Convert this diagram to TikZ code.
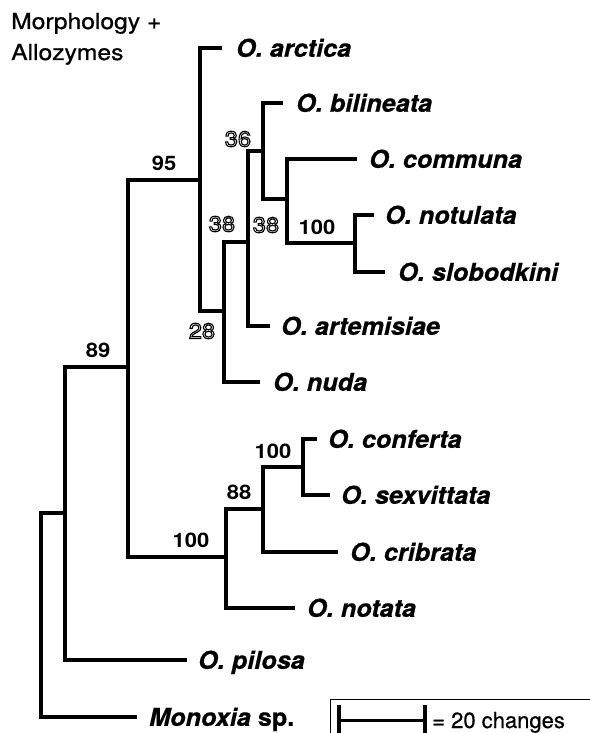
\documentclass[tikz,border=0pt]{standalone}
\usepackage{fontspec}
\setmainfont{TeX Gyre Heros}
\newfontfamily\taxfont[FakeStretch=1.03,FakeBold=0.6]{TeX Gyre Heros}
\newfontfamily\numfont[FakeStretch=1.1]{TeX Gyre Heros}
\newfontfamily\headfont[FakeStretch=1.12,FakeBold=0.8]{TeX Gyre Heros}
\newfontfamily\chgfont[FakeBold=0.6]{TeX Gyre Heros}
\usetikzlibrary{positioning}
% outlined digits for the weak supports
\newcommand{\hollownum}[1]{\special{pdf:literal direct 1 Tr 1.1 w}#1\special{pdf:literal direct 0 Tr}}
\tikzset{
  br/.style     = {line width=4.5pt},
  taxon/.style  = {font=\taxfont\bfseries\itshape\fontsize{24.5}{28}\selectfont,
                   inner sep=0pt, text height=17.5pt, text depth=0pt},
  boot/.style   = {font=\numfont\bfseries\fontsize{20}{24}\selectfont, inner sep=0pt},
  hboot/.style  = {font=\numfont\fontsize{21.5}{24}\selectfont, inner sep=0pt},
  head/.style   = {font=\headfont\fontsize{22}{26}\selectfont, inner sep=0pt,
                   anchor=base west},
  sbar/.style   = {line width=3pt},
  stick/.style  = {line width=4.5pt},
}

\begin{document}
\begin{tikzpicture}[x=1pt,y=-1pt]
  \useasboundingbox (0,0) rectangle (589,733);
  % internal nodes
  \coordinate (root) at (41,615);
  \coordinate (nPil) at (65,513);
  \coordinate (n89)  at (128,367);
  \coordinate (n95)  at (200,180);
  \coordinate (nNud) at (224,311);
  \coordinate (nArt) at (248,242);
  \coordinate (nBil) at (263,151);
  \coordinate (nCom) at (287,199);
  \coordinate (nNsl) at (355,243);
  \coordinate (nLow) at (226,557);
  \coordinate (n88)  at (263,509);
  \coordinate (nCnf) at (303,467);
  % tips
  \coordinate (tArc) at (222,48);
  \coordinate (tBil) at (283,103);
  \coordinate (tCom) at (357,159);
  \coordinate (tNtl) at (374,215);
  \coordinate (tSlo) at (385,272);
  \coordinate (tArt) at (270,326);
  \coordinate (tNud) at (260,382);
  \coordinate (tCnf) at (317,439);
  \coordinate (tSex) at (330,495);
  \coordinate (tCri) at (338,552);
  \coordinate (tNot) at (295,608);
  \coordinate (tPil) at (187,660);
  \coordinate (tMon) at (137,717);
  % branches
  \foreach \p/\c in {root/nPil, root/tMon, nPil/n89, nPil/tPil, n89/n95, n89/nLow,
      n95/tArc, n95/nNud, nNud/nArt, nNud/tNud, nArt/nBil, nArt/tArt,
      nBil/tBil, nBil/nCom, nCom/tCom, nCom/nNsl, nNsl/tNtl, nNsl/tSlo,
      nLow/n88, nLow/tNot, n88/nCnf, n88/tCri, nCnf/tCnf, nCnf/tSex}
    \draw[br] (\p) |- (\c);
  % taxa
  \node[taxon, right=14pt of tArc] (arc) {O. arctica};
  \node[taxon, right=13pt of tBil] (bil) {O. bilineata};
  \node[taxon, right=12pt of tCom] (com) {O. communa};
  \node[taxon, right=11pt of tNtl] (ntl) {O. notulata};
  \node[taxon, right=13pt of tSlo] (slo) {O. slobodkini};
  \node[taxon, right=11pt of tArt] (art) {O. artemisiae};
  \node[taxon, right=13pt of tNud] (nud) {O. nuda};
  \node[taxon, right=11pt of tCnf] (cnf) {O. conferta};
  \node[taxon, right=11pt of tSex] (sex) {O. sexvittata};
  \node[taxon, right=12pt of tCri] (cri) {O. cribrata};
  \node[taxon, right=12pt of tNot] (not) {O. notata};
  \node[taxon, right=11pt of tPil] (pil) {O. pilosa};
  \node[taxon, right=12pt of tMon] (mon) {Monoxia \upshape sp.};
  % supports
  \node[boot] (b95)  at (164,163) {95};
  \node[boot] (b89)  at (98,350)  {89};
  \node[hboot] (b36)  at (238,139) {\hollownum{36}};
  \node[hboot] (b38a) at (222,224) {\hollownum{38}};
  \node[hboot] (b38b) at (266,225) {\hollownum{38}};
  \node[hboot] (b28)  at (202,331) {\hollownum{28}};
  \node[boot] (b100a) at (317,227) {100};
  \node[boot] (b100b) at (191,540) {100};
  \node[boot] (b88)  at (239,492) {88};
  \node[boot] (b100c) at (273,451) {100};
  % heading
  \node[head] (hd1) at (11,29) {Morphology +};
  \node[head] (hd2) at (11,60) {Allozymes};
  % scale
  \draw[line width=1pt] (330,699) rectangle (620,760);
  \coordinate (sL) at (339,720);
  \coordinate (sR) at (425,720);
  \draw[sbar] (sL) -- (sR);
  \draw[stick] ([yshift=15pt]sL) -- ([yshift=-15pt]sL);
  \draw[stick] ([yshift=15pt]sR) -- ([yshift=-15pt]sR);
  \node[font=\chgfont\fontsize{22}{26}\selectfont, inner sep=0pt, anchor=base west]
    (chg) at (432,728) {= 20 changes};
\end{tikzpicture}
\end{document}
